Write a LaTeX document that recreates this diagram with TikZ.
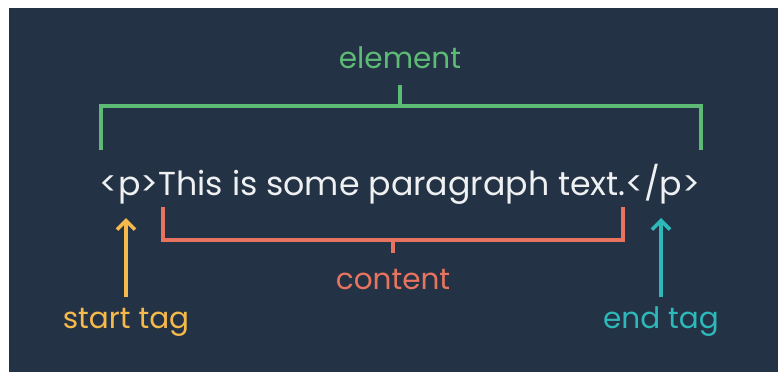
\documentclass[tikz,border=0pt]{standalone}
\usepackage{fontspec}
\setmainfont{Poppins}
\usetikzlibrary{arrows.meta}
\definecolor{bgnavy}{HTML}{233244}
\definecolor{elgreen}{HTML}{5DBB76}
\definecolor{ctsalmon}{HTML}{E8735F}
\definecolor{styellow}{HTML}{F5B94C}
\definecolor{etteal}{HTML}{2DB8BA}
\definecolor{codewhite}{HTML}{EEF0F2}
\tikzset{
  lbl/.style={inner sep=0pt, font=\fontsize{29.5}{32}\selectfont},
  bracket/.style={line width=3.6pt, line cap=butt, line join=miter},
  pointer/.style={line width=3.6pt, -{Straight Barb[length=9pt, width=18pt, line width=3.6pt]}}
}
\begin{document}
\begin{tikzpicture}[x=1pt, y=-1pt]
  \useasboundingbox (0,0) rectangle (778,372);
  \fill[white] (0,0) rectangle (778,372);
  \fill[bgnavy] (9,8) rectangle (778,372);

  % the HTML line
  \node[inner sep=0pt, anchor=base, text=codewhite, font=\fontsize{33.2}{37}\selectfont] (code) at (400,195)
    {<p>This is some paragraph text.</p>};

  % element bracket
  \node[lbl, text=elgreen] (element) at (400,58) {element};
  \coordinate (eltop) at (400,85);
  \coordinate (elmid) at (400,106);
  \coordinate (elL) at (101,106);
  \coordinate (elR) at (701,106);
  \coordinate (elLd) at (101,150);
  \coordinate (elRd) at (701,150);
  \draw[bracket, elgreen] (elLd) -- (elL) -- (elR) -- (elRd);
  \draw[bracket, elgreen] (eltop) -- (elmid);

  % content bracket
  \node[lbl, text=ctsalmon] (content) at (393,280) {content};
  \coordinate (ctL) at (163,207);
  \coordinate (ctLb) at (163,240);
  \coordinate (ctRb) at (623,240);
  \coordinate (ctR) at (623,207);
  \coordinate (ctmid) at (393,240);
  \coordinate (cttick) at (393,253);
  \draw[bracket, ctsalmon] (ctL) -- (ctLb) -- (ctRb) -- (ctR);
  \draw[bracket, ctsalmon] (ctmid) -- (cttick);

  % start tag pointer
  \node[lbl, text=styellow] (starttag) at (126,322) {start tag};
  \coordinate (sttip) at (126,218);
  \coordinate (stfoot) at (126,297);
  \draw[pointer, styellow] (stfoot) -- (sttip);

  % end tag pointer
  \node[lbl, text=etteal] (endtag) at (661,322) {end tag};
  \coordinate (ettip) at (661,218);
  \coordinate (etfoot) at (661,297);
  \draw[pointer, etteal] (etfoot) -- (ettip);
\end{tikzpicture}
\end{document}
